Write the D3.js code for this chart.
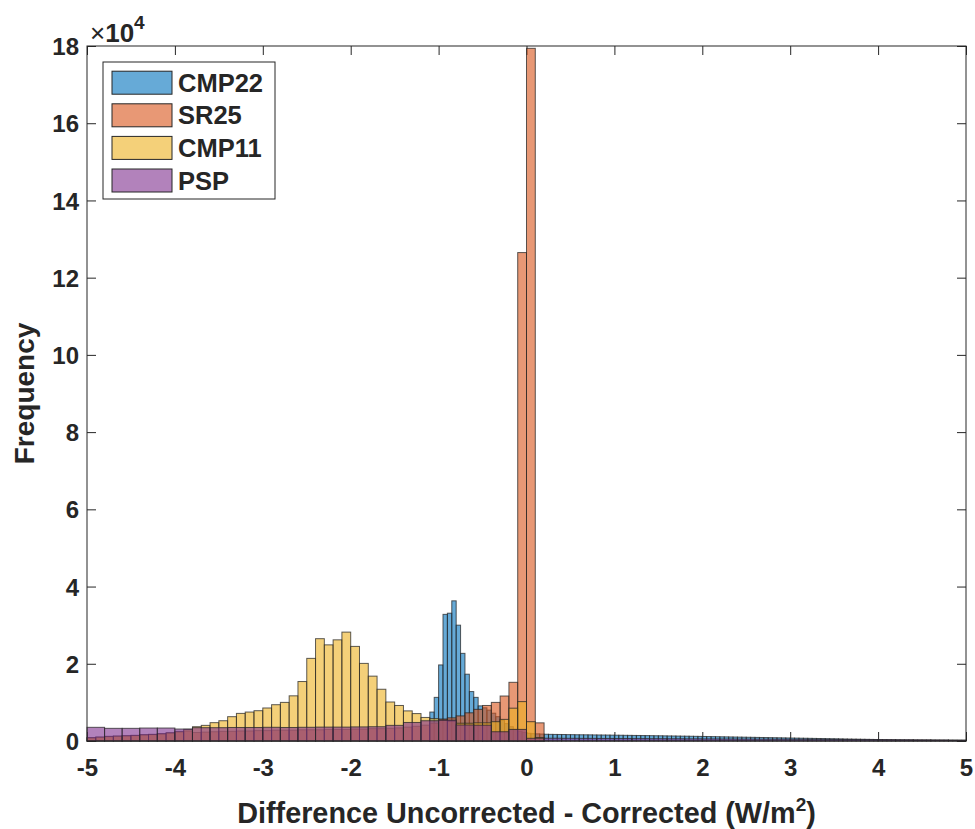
<!DOCTYPE html>
<html><head><meta charset="utf-8">
<script src="https://cdn.jsdelivr.net/npm/d3@7"></script>
<style>
body{margin:0;background:#fff}
text{font-family:"Liberation Sans",Arial,Helvetica,sans-serif;font-weight:bold;fill:#262626}
</style>
</head><body><svg id="c" width="975" height="829"></svg>
<script>
// ---- data ----
const seriesNames = ["CMP22", "SR25", "CMP11", "PSP"];
const seriesColors = ["#0072BD", "#D95319", "#EDB120", "#7E2F8E"];

// CMP22: bins of 0.05 starting at -1.1
const cmp22Start = -1.1, cmp22Width = 0.05;
const cmp22Counts = [
  7500, 11300, 19700, 32800, 33100, 36300, 30000, 22700, 17300, 12800,
  11300, 9100, 8600, 8000, 7200, 6300, 5400, 4500, 3700, 3000,
  2500, 2200, 2000, 1900, 1850, 1800,
  1750, 1720, 1700, 1690, 1680, 1650, 1640, 1620, 1610, 1600,
  1590, 1570, 1560, 1550, 1540, 1520, 1500, 1490, 1470, 1460,
  1440, 1430, 1410, 1400, 1380, 1360, 1350, 1330, 1310, 1300,
  1280, 1260, 1250, 1230, 1210, 1190, 1170, 1150, 1130, 1110,
  1090, 1070, 1050, 1030, 1010, 990, 970, 950, 930, 910,
  890, 870, 850, 830, 810, 790, 770, 750, 730, 710,
  690, 670, 650, 630, 610, 590, 570, 550, 530, 510,
  490, 470, 450, 430, 410, 390, 370, 350, 330, 310,
  300, 290, 280, 270, 260, 250, 240, 230, 220, 210,
  200, 190, 180, 170, 160, 150
];

// SR25: bins of 0.1 starting at -5
const sr25Start = -5, sr25Width = 0.1;
const sr25Counts = [
  800, 950, 1100, 1200, 1300, 1400, 1550, 1650, 1800, 2000, 2300, 2600,
  2200, 2300, 2400, 2500, 2500, 2600, 2600, 2700, 2700, 2800,
  2800, 2800, 2900, 2900, 2900, 3000, 3000, 3000, 3100, 3100,
  3200, 3200, 3300, 3400, 3600, 3800, 4100, 4600,
  5700, 6000, 6500, 7300, 8200, 9200, 10000, 11650, 15200, 126500, 179400, 4700
];

// CMP11: bins of 0.1 starting at -5
const cmp11Start = -5, cmp11Width = 0.1;
const cmp11Counts = [
  860, 1040, 1210, 1300, 1380, 1470, 1640, 1730, 1900, 2160, 2500, 3020,
  3700, 4050, 4750, 5250, 6300, 7150, 7500, 7850, 8550, 9400,
  10000, 11700, 15400, 21400, 26500, 24900, 26200, 28200, 24500, 20100,
  16800, 13400, 10100, 9200, 7800, 7100, 6100, 5800, 5400, 5200,
  4600, 4600, 4700, 4700, 5000, 5600, 8500, 10200, 5000, 900
];

// PSP: bins of 0.2 starting at -5
const pspStart = -5, pspWidth = 0.2;
const pspCounts = [
  3540, 3280, 3280, 3360, 3360, 3100,
  3450, 3450, 3500, 3500, 3550, 3500, 3550, 3600, 3600, 3650,
  3700, 4050, 4800, 5250, 5400, 4150, 4100, 2400, 3000, 700,
  720, 700, 680, 660, 640, 620, 600, 580, 560, 540, 520, 500,
  480, 460, 440, 420, 400, 380, 360, 340, 320, 300, 280, 260
];

const xTicks = [-5, -4, -3, -2, -1, 0, 1, 2, 3, 4, 5];
const yTicks = [0, 20000, 40000, 60000, 80000, 100000, 120000, 140000, 160000, 180000];
const yTickLabels = ["0", "2", "4", "6", "8", "10", "12", "14", "16", "18"];

// ---- chart ----
const L = 87, R = 966, T = 46, B = 741;
const svg = d3.select("#c");
const x = d3.scaleLinear().domain([-5, 5]).range([L, R]);
const y = d3.scaleLinear().domain([0, 180000]).range([B, T]);
const ink = "#262626";

// ticks (under the data)
const gx = svg.append("g").attr("transform", `translate(0,${B})`)
  .call(d3.axisBottom(x).tickValues(xTicks).tickSize(-9).tickSizeOuter(0).tickPadding(18).tickFormat(d => String(d)));
const gxt = svg.append("g").attr("transform", `translate(0,${T})`)
  .call(d3.axisTop(x).tickValues(xTicks).tickSize(-9).tickSizeOuter(0).tickFormat(""));
const gy = svg.append("g").attr("transform", `translate(${L},0)`)
  .call(d3.axisLeft(y).tickValues(yTicks).tickSize(-9).tickSizeOuter(0).tickPadding(8).tickFormat((d, i) => yTickLabels[i]));
const gyr = svg.append("g").attr("transform", `translate(${R},0)`)
  .call(d3.axisRight(y).tickValues(yTicks).tickSize(-9).tickSizeOuter(0).tickFormat(""));
[gx, gxt, gy, gyr].forEach(g => {
  g.select(".domain").remove();
  g.selectAll(".tick line").attr("stroke", ink).attr("stroke-width", 1);
  g.selectAll("text").attr("font-size", 24).attr("fill", ink)
    .attr("font-family", '"Liberation Sans",Arial,sans-serif').attr("font-weight", "bold");
});
gx.selectAll("text").attr("dy", "0.71em");
gy.selectAll("text").attr("dy", "0.36em");

// histograms
const series = [
  {start: cmp22Start, width: cmp22Width, counts: cmp22Counts},
  {start: sr25Start, width: sr25Width, counts: sr25Counts},
  {start: cmp11Start, width: cmp11Width, counts: cmp11Counts},
  {start: pspStart, width: pspWidth, counts: pspCounts}
];
series.forEach((s, k) => {
  const bins = s.counts.map((c, i) => ({
    x0: +(s.start + i * s.width).toFixed(4),
    x1: +(s.start + (i + 1) * s.width).toFixed(4),
    c
  })).filter(b => b.c > 0);
  svg.append("g").selectAll("rect").data(bins).join("rect")
    .attr("x", d => x(d.x0)).attr("width", d => x(d.x1) - x(d.x0))
    .attr("y", d => y(d.c)).attr("height", d => y(0) - y(d.c))
    .attr("fill", seriesColors[k]).attr("fill-opacity", 0.6)
    .attr("stroke", ink).attr("stroke-opacity", 0.75).attr("stroke-width", 1);
});

// box
svg.append("rect").attr("x", L).attr("y", T).attr("width", R - L).attr("height", B - T)
  .attr("fill", "none").attr("stroke", ink).attr("stroke-width", 1);

// exponent label
const ex = svg.append("text").attr("x", 90).attr("y", 42).attr("font-size", 26);
ex.append("tspan").attr("font-weight", "normal").text("×");
ex.append("tspan").text("10");
ex.append("tspan").attr("font-size", 19).attr("dy", -13).text("4");

// axis labels
const xl = svg.append("text").attr("x", (L + R) / 2).attr("y", 823).attr("text-anchor", "middle").attr("font-size", 28.8);
xl.append("tspan").text("Difference Uncorrected - Corrected (W/m");
xl.append("tspan").attr("font-size", 19).attr("dy", -12).text("2");
xl.append("tspan").attr("dy", 12).text(")");
svg.append("text").attr("transform", `translate(34,${(T + B) / 2}) rotate(-90)`)
  .attr("text-anchor", "middle").attr("font-size", 28).text("Frequency");

// legend
const lg = svg.append("g");
lg.append("rect").attr("x", 103).attr("y", 62).attr("width", 172).attr("height", 137)
  .attr("fill", "#fff").attr("stroke", ink).attr("stroke-width", 1);
seriesNames.forEach((n, i) => {
  const cy = 82.7 + i * 32.6;
  lg.append("rect").attr("x", 112).attr("y", cy - 11.5).attr("width", 60).attr("height", 23)
    .attr("fill", seriesColors[i]).attr("fill-opacity", 0.6)
    .attr("stroke", ink).attr("stroke-width", 1);
  lg.append("text").attr("x", 178).attr("y", cy + 9).attr("font-size", 25.5).text(n);
});
</script>
</body></html>
